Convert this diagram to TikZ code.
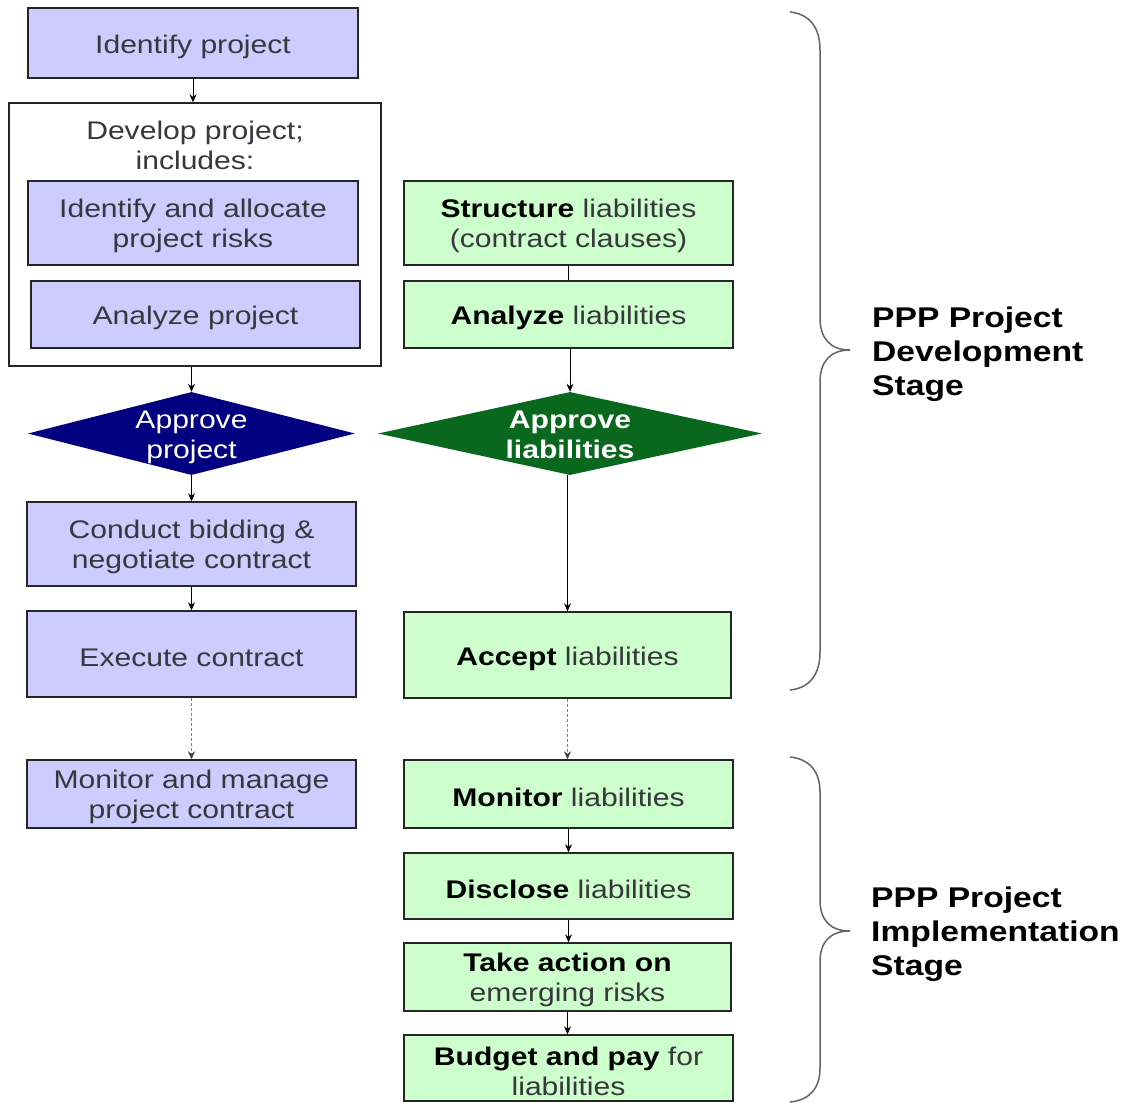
\documentclass[tikz,border=0pt]{standalone}
\usepackage{fontspec}
\setmainfont{Liberation Sans}
\newfontfamily\widefont[FakeStretch=1.18]{Liberation Sans}
\usetikzlibrary{shapes.geometric,arrows.meta}
\definecolor{lav}{RGB}{204,204,255}
\definecolor{mint}{RGB}{204,255,204}
\definecolor{navyd}{RGB}{0,0,128}
\definecolor{greend}{RGB}{10,104,30}
\definecolor{txt}{RGB}{55,55,60}
\definecolor{brc}{RGB}{100,100,100}
\newcommand\bk[1]{\textcolor{black}{\bfseries #1}}
\begin{document}
\begin{tikzpicture}[x=1pt,y=-1pt,
  box/.style={draw=black!85, line width=1.4pt, rectangle, inner sep=0pt, align=center,
    font=\widefont\fontsize{25.5}{30}\selectfont, text=txt,
    execute at begin node={\rule{0pt}{26pt}}},
  two/.style={execute at begin node={\rule{0pt}{55pt}}},
  lbox/.style={box, fill=lav},
  gbox/.style={box, fill=mint},
  dia/.style={diamond, inner sep=0pt},
  diatext/.style={inner sep=0pt, align=center, text=white,
    font=\widefont\fontsize{25.5}{30}\selectfont},
  arr/.style={-{Stealth[length=8pt,width=7pt]}, line width=0.9pt, draw=black},
  darr/.style={-{Stealth[length=8pt,width=7pt,color=black!75]}, line width=1.5pt,
    draw=black!50, dash pattern=on 3pt off 2pt},
  brace/.style={draw=brc, line width=1.5pt},
  stage/.style={anchor=west, align=left, inner sep=0pt,
    font=\widefont\bfseries\fontsize{28.5}{34}\selectfont, text=black}
]
\useasboundingbox (0,0) rectangle (1125,1103);
\fill[white] (0,0) rectangle (1125,1103);

% left column
\node[lbox, minimum width=330, minimum height=70] (idp) at (193,43) {Identify project};
\node[box, fill=white, minimum width=372, minimum height=263] (dev) at (195,234.5) {};
\node[box, two, draw=none] (devt) at (195,142.5) {Develop project;\\includes:};
\node[lbox, two, minimum width=330, minimum height=84] (iar) at (193,223) {Identify and allocate\\project risks};
\node[lbox, minimum width=329, minimum height=67] (anp) at (195.5,314.5) {Analyze project};
\node[dia, fill=navyd, minimum width=327, minimum height=83] (dp) at (191.5,433.5) {};
\node[diatext, yshift=-3.5pt] (dpt) at (dp) {Approve\\project};
\node[lbox, two, minimum width=329, minimum height=84] (cbn) at (191.5,544) {Conduct bidding \&\\negotiate contract};
\node[lbox, minimum width=329, minimum height=86] (exc) at (191.5,654) {Execute contract};
\node[lbox, two, minimum width=329, minimum height=68] (mon) at (191.5,794) {Monitor and manage\\project contract};

% right column
\node[gbox, two, minimum width=329, minimum height=84] (stl) at (568.5,223) {\bk{Structure} liabilities\\(contract clauses)};
\node[gbox, minimum width=329, minimum height=67] (anl) at (568.5,314.5) {\bk{Analyze} liabilities};
\node[dia, fill=greend, minimum width=384, minimum height=83] (dl) at (570,433.5) {};
\node[diatext, yshift=-1pt, font=\widefont\bfseries\fontsize{25.5}{30}\selectfont] (dlt) at (dl) {Approve\\liabilities};
\node[gbox, minimum width=327, minimum height=86] (acc) at (567.5,655) {\bk{Accept} liabilities};
\node[gbox, minimum width=329, minimum height=68] (mol) at (568.5,794) {\bk{Monitor} liabilities};
\node[gbox, minimum width=329, minimum height=66] (dis) at (568.5,886) {\bk{Disclose} liabilities};
\node[gbox, two, minimum width=327, minimum height=68] (tak) at (567.5,977) {\bk{Take action on}\\emerging risks};
\node[gbox, two, minimum width=329, minimum height=66] (bud) at (568.5,1068) {\bk{Budget and pay} for\\liabilities};

% connectors left
\draw[arr] (idp.south) -- (idp.south |- dev.north);
\draw[arr] (dp.north |- dev.south) -- (dp.north);
\draw[arr] (dp.south) -- (dp.south |- cbn.north);
\draw[arr] (cbn.south) -- (exc.north);
\draw[darr] (exc.south) -- (mon.north);

% connectors right
\draw[line width=0.9pt] (stl.south) -- (anl.north);
\draw[arr] (dl.north |- anl.south) -- (dl.north);
\draw[arr] (acc.north |- dl.south) -- (acc.north);
\draw[darr] (acc.south) -- (acc.south |- mol.north);
\draw[arr] (mol.south) -- (mol.south |- dis.north);
\draw[arr] (dis.south) -- (dis.south |- tak.north);
\draw[arr] (tak.south) -- (tak.south |- bud.north);

% braces
\draw[brace] (790,12) .. controls (810,14) and (820,28) .. (820,50) -- (820,318)
  .. controls (820,338) and (830,350) .. (850,350)
  .. controls (830,350) and (820,362) .. (820,382) -- (820,652)
  .. controls (820,674) and (810,688) .. (790,690);
\draw[brace] (790,757) .. controls (810,759) and (820,772) .. (820,792) -- (820,900)
  .. controls (820,920) and (830,931) .. (850,931)
  .. controls (830,931) and (820,942) .. (820,962) -- (820,1068)
  .. controls (820,1088) and (810,1100) .. (790,1102);

\node[stage] (s1) at (872,354) {PPP Project\\Development\\Stage};
\node[stage] (s2) at (871,934.5) {PPP Project\\Implementation\\Stage};
\end{tikzpicture}
\end{document}
